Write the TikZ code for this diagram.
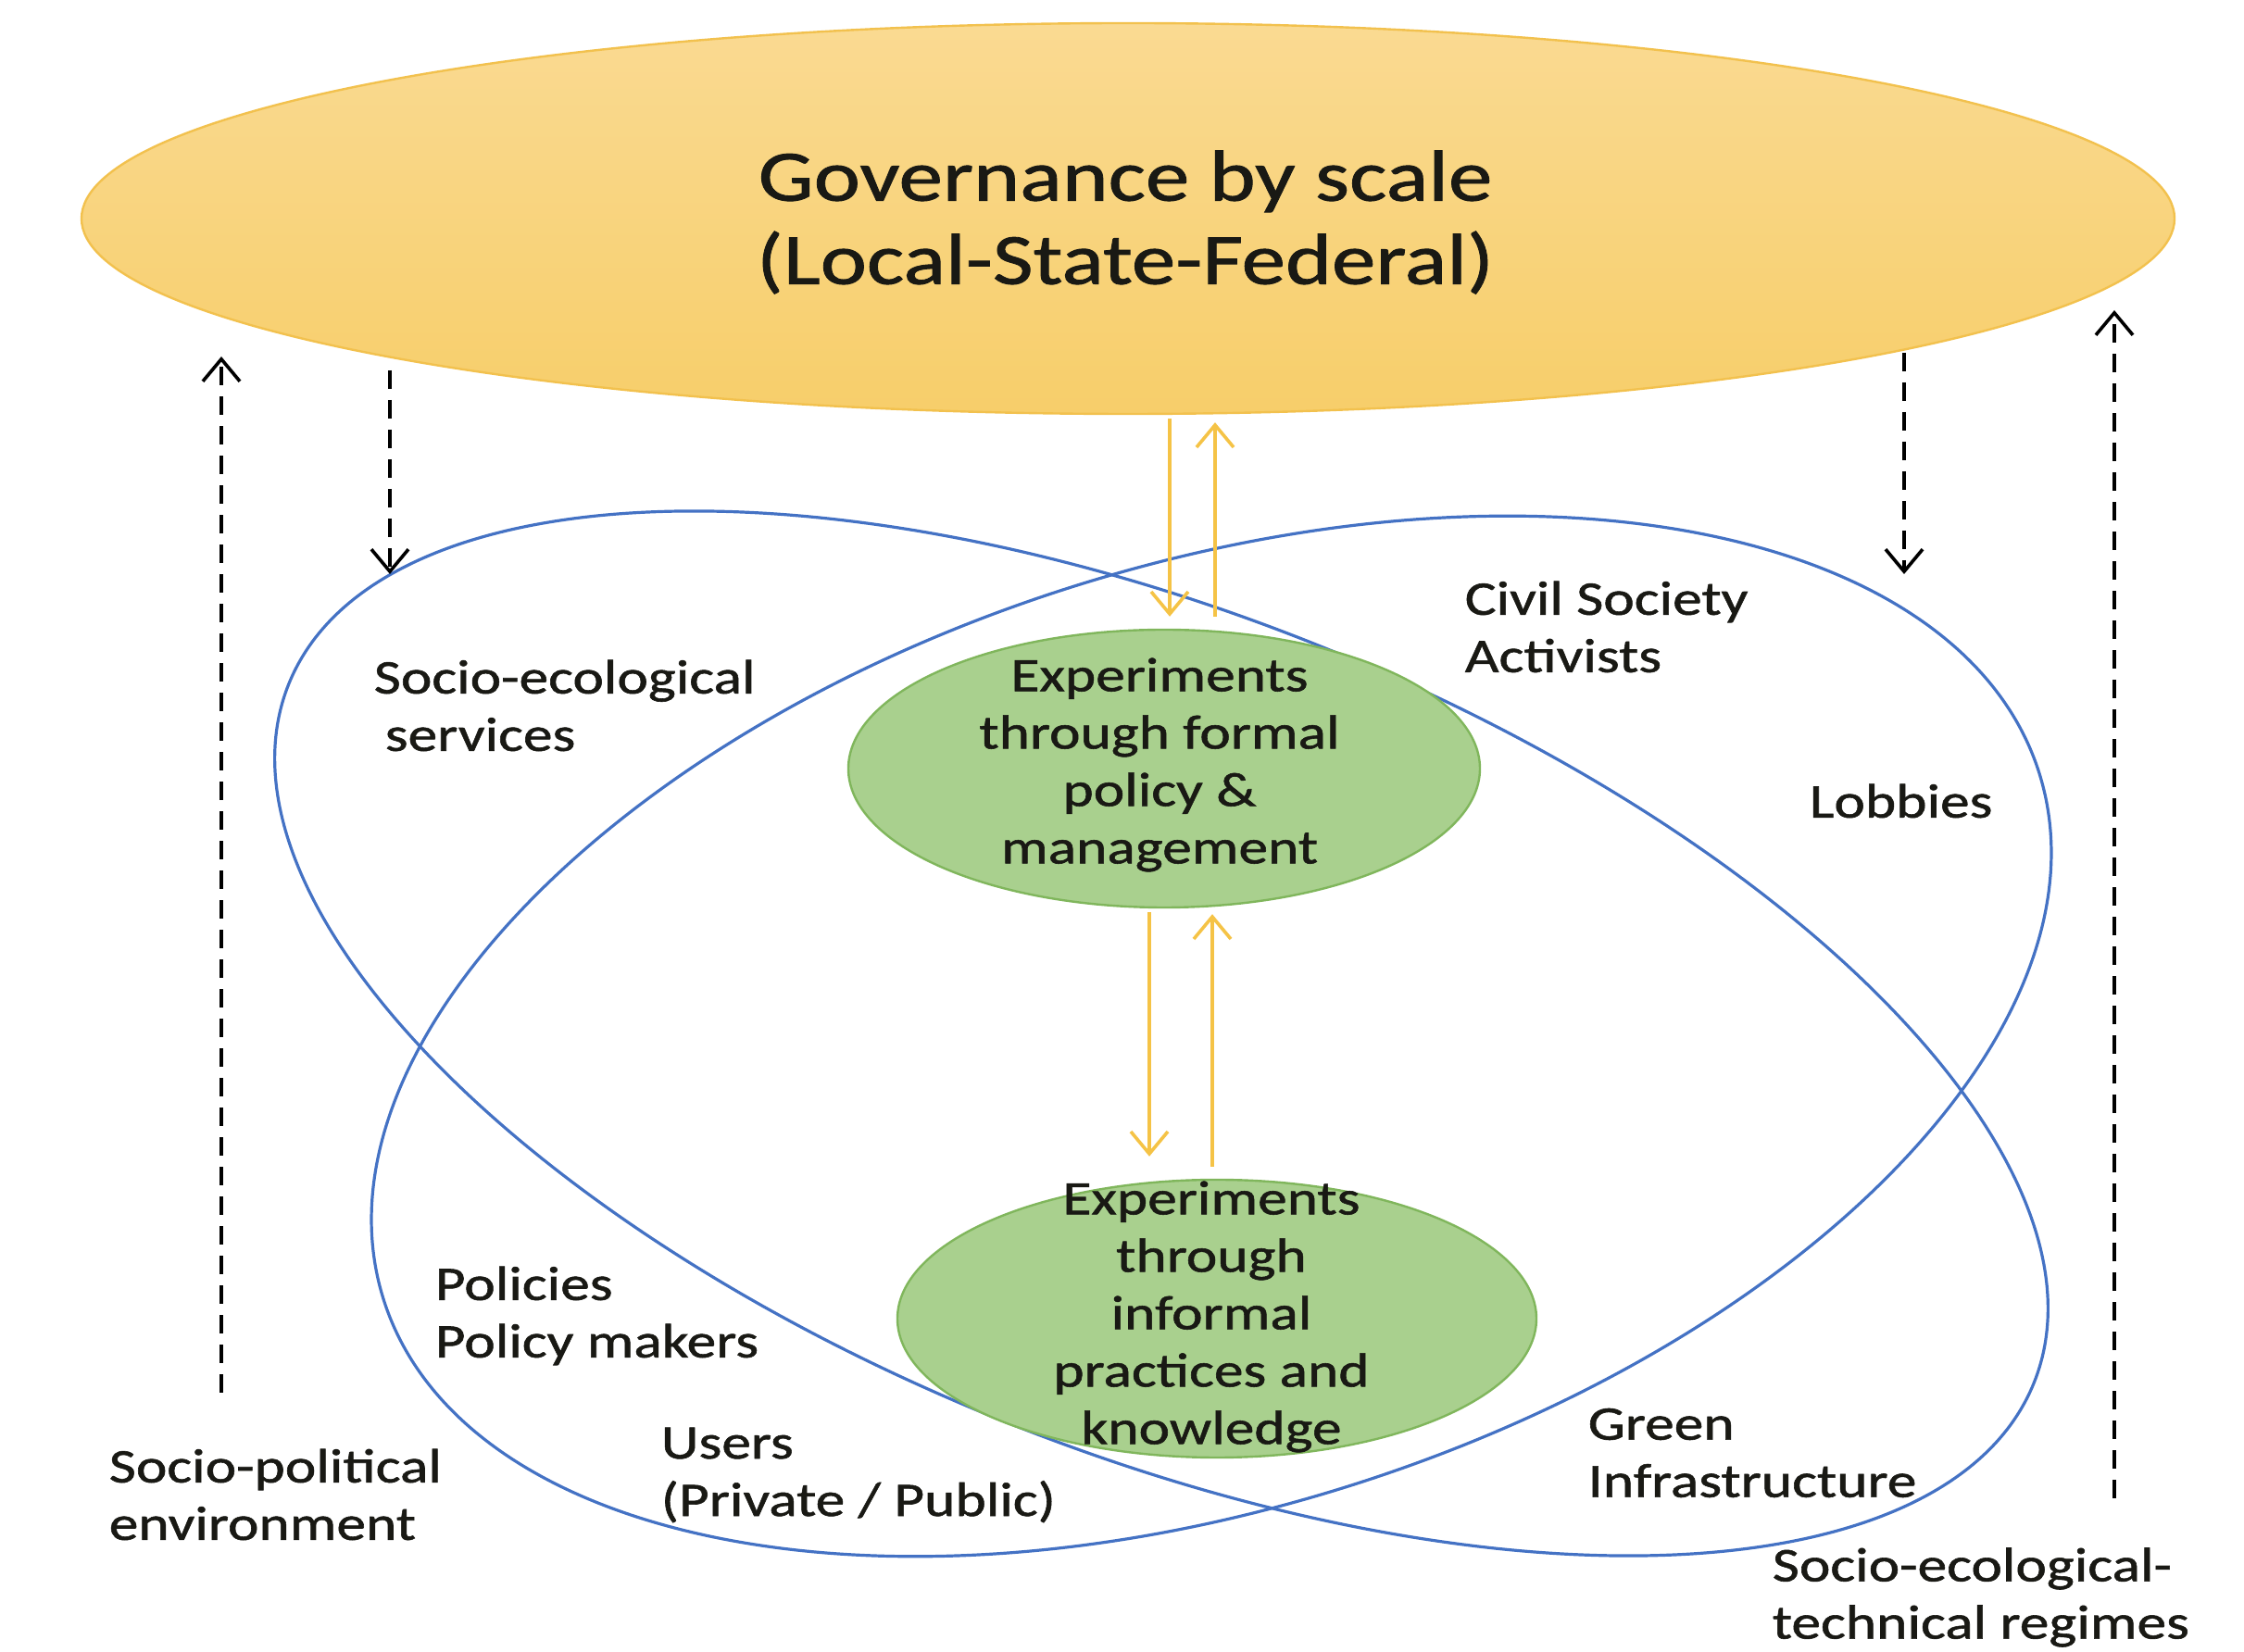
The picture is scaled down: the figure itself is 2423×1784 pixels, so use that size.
\documentclass[tikz,border=0pt]{standalone}
\usepackage{fontspec}
\setmainfont{Carlito}[FakeStretch=1.22,FakeBold=1.1]
\usetikzlibrary{arrows.meta,shapes.geometric,calc}
\definecolor{govtop}{RGB}{250,218,146}
\definecolor{govbot}{RGB}{247,206,106}
\definecolor{govdraw}{RGB}{242,193,78}
\definecolor{expfill}{RGB}{169,208,142}
\definecolor{expdraw}{RGB}{128,182,92}
\definecolor{ringblue}{RGB}{68,114,196}
\definecolor{flowyellow}{RGB}{245,195,70}
\definecolor{txt}{RGB}{25,25,20}
\begin{document}
\begin{tikzpicture}[x=0.25pt,y=-0.25pt,
  lbl/.style={font=\fontsize{13}{15.5}\selectfont, text=txt, align=left, anchor=west, inner sep=0pt},
  expbox/.style={ellipse, fill=expfill, draw=expdraw, line width=0.6pt, inner sep=0pt},
  exptext/.style={font=\fontsize{13}{15.5}\selectfont, text=txt, align=center, inner sep=0pt},
  ring/.style={draw=ringblue, line width=0.8pt},
  flow/.style={draw=flowyellow, line width=0.9pt, -{Straight Barb[length=6pt,width=10pt]}},
  dasharrow/.style={draw=black, line width=0.9pt, dash pattern=on 5pt off 3pt, -{Straight Barb[length=6pt,width=10pt]}}
]
\useasboundingbox (0,0) rectangle (2423,1784);

% governance ellipse
\node[ellipse, top color=govtop, bottom color=govbot, draw=govdraw, line width=0.6pt, minimum width=565pt, minimum height=105.5pt, inner sep=0pt] (gov) at (1218,236) {};
\node[font=\fontsize{19.5}{22.5}\selectfont, text=txt, align=center, inner sep=0pt] (govt) at (1215,240) {Governance by scale\\(Local-State-Federal)};

% blue rings
\draw[ring, rotate around={-21.8:(1254,1116)}] (1254,1116) ellipse [x radius=1015, y radius=452];
\draw[ring, rotate around={17.7:(1308,1119)}] (1308,1119) ellipse [x radius=938, y radius=508];

% experiment ellipses
\node[expbox, minimum width=170.5pt, minimum height=75pt] (f1) at (1257,830) {};
\node[exptext] (f1t) at (1252,826) {Experiments\\through formal\\policy \&\\management};
\node[expbox, minimum width=172.5pt, minimum height=75pt] (f2) at (1314,1424) {};
\node[exptext] (f2t) at (1308,1422) {Experiments\\through\\informal\\practices and\\knowledge};

% yellow flows
\draw[flow, shorten <=1pt, shorten >=3.25pt] ([xshift=11.25pt]gov.south) -- ([xshift=1.5pt]f1.north);
\draw[flow, shorten <=3.25pt, shorten >=2pt] ([xshift=13.75pt]f1.north) -- ([xshift=23.5pt]gov.south);
\draw[flow, shorten <=1pt, shorten >=6pt] ([xshift=-4pt]f1.south) -- ([xshift=-18.25pt]f2.north);
\draw[flow, shorten <=3.25pt, shorten >=1.5pt] ([xshift=-1.25pt]f2.north) -- ([xshift=13pt]f1.south);

% dashed arrows
\coordinate (spBot) at (239,1504);
\coordinate (spTop) at (239,385);
\coordinate (ldTop) at (421,400);
\coordinate (ldBot) at (421,620);
\coordinate (rdTop) at (2056,381);
\coordinate (rdBot) at (2056,620);
\coordinate (ruBot) at (2283,1618);
\coordinate (ruTop) at (2283,335);
\draw[dasharrow] (spBot) -- (spTop);
\draw[dasharrow] (ldTop) -- (ldBot);
\draw[dasharrow] (rdTop) -- (rdBot);
\draw[dasharrow] (ruBot) -- (ruTop);

% labels
\node[lbl] (ses) at (403,762) {Socio-ecological\\\hspace*{3pt}services};
\node[lbl] (civ) at (1581,677) {Civil Society\\Activists};
\node[lbl] (lob) at (1953,865) {Lobbies};
\node[lbl] (pol) at (469,1421) {Policies\\Policy makers};
\node[lbl] (usr) at (713,1593) {Users\\(Private / Public)};
\node[lbl] (gi) at (1714,1569) {Green\\Infrastructure};
\node[lbl] (spe) at (117,1614) {Socio-political\\environment};
\node[lbl] (set) at (1913,1725) {Socio-ecological-\\technical regimes};
\end{tikzpicture}
\end{document}
